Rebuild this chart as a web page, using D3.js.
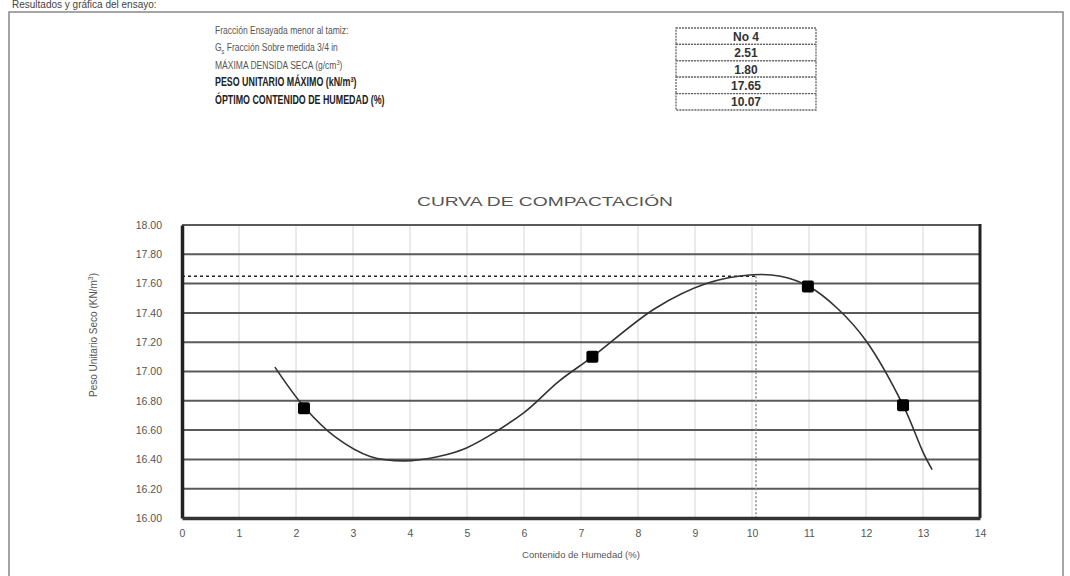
<!DOCTYPE html>
<html>
<head>
<meta charset="utf-8">
<script src="https://cdn.jsdelivr.net/npm/d3@7/dist/d3.min.js"></script>
<style>
  html, body { margin: 0; padding: 0; background: #fff; }
  svg { display: block; font-family: "Liberation Sans", Arial, sans-serif; }
</style>
</head>
<body>
<svg id="chart" width="1070" height="576"></svg>
<script>
// Measured points: moisture content (%) and dry unit weight (kN/m3)
const moisture = [2.14, 7.2, 10.98, 12.65];
const unitWeight = [16.75, 17.10, 17.58, 16.77];

// Fitted compaction curve, sampled along its length
const curveX = [1.63, 2.14, 2.7, 3.3, 3.9, 4.5, 5.0, 6.0, 6.6, 7.2, 8.3, 9.2, 10.0, 10.5, 11.0, 11.5, 12.0, 12.65, 13.0, 13.16];
const curveY = [17.03, 16.76, 16.55, 16.42, 16.39, 16.42, 16.48, 16.72, 16.93, 17.10, 17.43, 17.60, 17.66, 17.65, 17.58, 17.43, 17.21, 16.77, 16.45, 16.33];

// Optimum
const optimumMoisture = 10.07;
const maxUnitWeight = 17.65;

// Axis ticks
const xTicks = [0, 1, 2, 3, 4, 5, 6, 7, 8, 9, 10, 11, 12, 13, 14];
const yTicks = [16.0, 16.2, 16.4, 16.6, 16.8, 17.0, 17.2, 17.4, 17.6, 17.8, 18.0];

// Summary block
const headerLabels = [
  "Fracción Ensayada menor al tamiz:",
  "Gs Fracción Sobre medida 3/4 in",
  "MÁXIMA DENSIDA SECA (g/cm3)",
  "PESO UNITARIO MÁXIMO (kN/m3)",
  "ÓPTIMO CONTENIDO DE HUMEDAD (%)"
];
const headerValues = ["No 4", "2.51", "1.80", "17.65", "10.07"];

const svg = d3.select("#chart");

// Outer frame and section heading above it
svg.append("text").attr("x", 12).attr("y", 8)
  .attr("font-size", 10).attr("fill", "#444")
  .text("Resultados y gráfica del ensayo:");

const frameGrad = svg.append("defs").append("linearGradient")
  .attr("id", "frameTop").attr("x1", "0").attr("x2", "1");
frameGrad.append("stop").attr("offset", "0").attr("stop-color", "#777");
frameGrad.append("stop").attr("offset", "0.55").attr("stop-color", "#bbb");
frameGrad.append("stop").attr("offset", "1").attr("stop-color", "#444");

svg.append("rect").attr("x", 9).attr("y", 12).attr("width", 1054).attr("height", 570)
  .attr("fill", "none").attr("stroke", "#888").attr("stroke-width", 1.5);
svg.append("line").attr("x1", 9).attr("x2", 1063).attr("y1", 12).attr("y2", 12)
  .attr("stroke", "url(#frameTop)").attr("stroke-width", 2.5);

// Header: labels on the left (condensed), boxed values on the right
const hdrY0 = 34, hdrStep = 17.5;
const hdr = svg.append("g");
const lbl = hdr.append("g").attr("transform", "translate(215,0) scale(0.74,1)");
headerLabels.forEach((lab, i) => {
  const bold = i >= 3;
  const t = lbl.append("text")
    .attr("x", 0).attr("y", hdrY0 + i * hdrStep)
    .attr("font-size", bold ? 12 : 11.5)
    .attr("font-weight", bold ? "bold" : "normal")
    .attr("fill", bold ? "#222" : "#555");
  if (i === 1) {
    t.append("tspan").text("G");
    t.append("tspan").attr("font-size", 7.5).attr("dy", 3).text("s");
    t.append("tspan").attr("dy", -3).text(" Fracción Sobre medida 3/4 in");
  } else if (i === 2 || i === 3) {
    const base = lab.slice(0, -2);
    t.append("tspan").text(base);
    t.append("tspan").attr("font-size", 7.5).attr("dy", -4).text("3");
    t.append("tspan").attr("dy", 4).text(")");
  } else {
    t.text(lab);
  }
});

const tblX = 676, tblW = 140, tblTop = 28, rowH = 16.4;
headerValues.forEach((v, i) => {
  hdr.append("rect")
    .attr("x", tblX).attr("y", tblTop + i * rowH)
    .attr("width", tblW).attr("height", rowH)
    .attr("fill", "#fff").attr("stroke", "#666")
    .attr("stroke-width", 1.3).attr("stroke-dasharray", "2,1");
  hdr.append("text")
    .attr("x", tblX + tblW / 2).attr("y", tblTop + i * rowH + rowH / 2 + 4.5)
    .attr("text-anchor", "middle").attr("font-size", 12).attr("font-weight", "bold")
    .attr("fill", "#333").text(v);
});

// Chart title
svg.append("text").attr("x", 417).attr("y", 206)
  .attr("font-size", 13).attr("fill", "#555")
  .attr("textLength", 256).attr("lengthAdjust", "spacingAndGlyphs")
  .text("CURVA DE COMPACTACIÓN");

// Plot area
const plot = { left: 182, right: 980, top: 225, bottom: 518 };
const x = d3.scaleLinear().domain([0, 14]).range([plot.left, plot.right]);
const y = d3.scaleLinear().domain([16, 18]).range([plot.bottom, plot.top]);

// Vertical grid (light)
svg.append("g").selectAll("line").data(xTicks.slice(1, -1)).join("line")
  .attr("x1", d => x(d)).attr("x2", d => x(d))
  .attr("y1", plot.top).attr("y2", plot.bottom)
  .attr("stroke", "#d6d6d6").attr("stroke-width", 1);

// Horizontal grid (dark)
svg.append("g").selectAll("line").data(yTicks.slice(1)).join("line")
  .attr("x1", plot.left).attr("x2", plot.right)
  .attr("y1", d => y(d)).attr("y2", d => y(d))
  .attr("stroke", "#5a5a5a").attr("stroke-width", 2);

// Right border
svg.append("line").attr("x1", plot.right).attr("x2", plot.right)
  .attr("y1", plot.top - 1).attr("y2", plot.bottom)
  .attr("stroke", "#222").attr("stroke-width", 3);

// Optimum guide lines
svg.append("line")
  .attr("x1", x(0)).attr("x2", x(optimumMoisture))
  .attr("y1", y(maxUnitWeight)).attr("y2", y(maxUnitWeight))
  .attr("stroke", "#222").attr("stroke-width", 1.5).attr("stroke-dasharray", "3,3");
svg.append("line")
  .attr("x1", x(optimumMoisture)).attr("x2", x(optimumMoisture))
  .attr("y1", y(maxUnitWeight)).attr("y2", y(16))
  .attr("stroke", "#888").attr("stroke-width", 1.5).attr("stroke-dasharray", "2,2");

// Axes
const yAxis = d3.axisLeft(y).tickValues(yTicks).tickFormat(d3.format(".2f")).tickSize(0).tickPadding(20);
const gy = svg.append("g").attr("transform", `translate(${plot.left},0)`).call(yAxis);
gy.select(".domain").attr("stroke", "#222").attr("stroke-width", 3.5);
gy.selectAll("text").attr("font-size", 10.5).attr("fill", "#555")
  .attr("font-family", "Liberation Sans, Arial, sans-serif");

const xAxis = d3.axisBottom(x).tickValues(xTicks).tickFormat(d3.format("d")).tickSize(0).tickPadding(12);
const gx = svg.append("g").attr("transform", `translate(0,${plot.bottom})`).call(xAxis);
gx.select(".domain").attr("stroke", "#333").attr("stroke-width", 3.5);
gx.selectAll("text").attr("font-size", 10.5).attr("fill", "#555")
  .attr("font-family", "Liberation Sans, Arial, sans-serif");

// Axis titles
svg.append("text")
  .attr("transform", `translate(97,335) rotate(-90)`)
  .attr("text-anchor", "middle").attr("font-size", 10).attr("fill", "#555")
  .call(t => {
    t.append("tspan").text("Peso Unitario Seco (KN/m");
    t.append("tspan").attr("font-size", 7).attr("dy", -4).text("3");
    t.append("tspan").attr("dy", 4).text(")");
  });
svg.append("text")
  .attr("x", (plot.left + plot.right) / 2).attr("y", 558)
  .attr("text-anchor", "middle").attr("font-size", 9.5).attr("fill", "#555")
  .text("Contenido de Humedad (%)");

// Compaction curve
const curvePts = curveX.map((cx, i) => [cx, curveY[i]]);
svg.append("path").datum(curvePts)
  .attr("fill", "none").attr("stroke", "#333").attr("stroke-width", 1.6)
  .attr("d", d3.line().x(d => x(d[0])).y(d => y(d[1])).curve(d3.curveCatmullRom.alpha(0.5)));

// Data points
svg.append("g").selectAll("rect").data(moisture.map((m, i) => [m, unitWeight[i]])).join("rect")
  .attr("x", d => x(d[0]) - 6).attr("y", d => y(d[1]) - 6)
  .attr("width", 12).attr("height", 12).attr("rx", 2)
  .attr("fill", "#000");
</script>
</body>
</html>
